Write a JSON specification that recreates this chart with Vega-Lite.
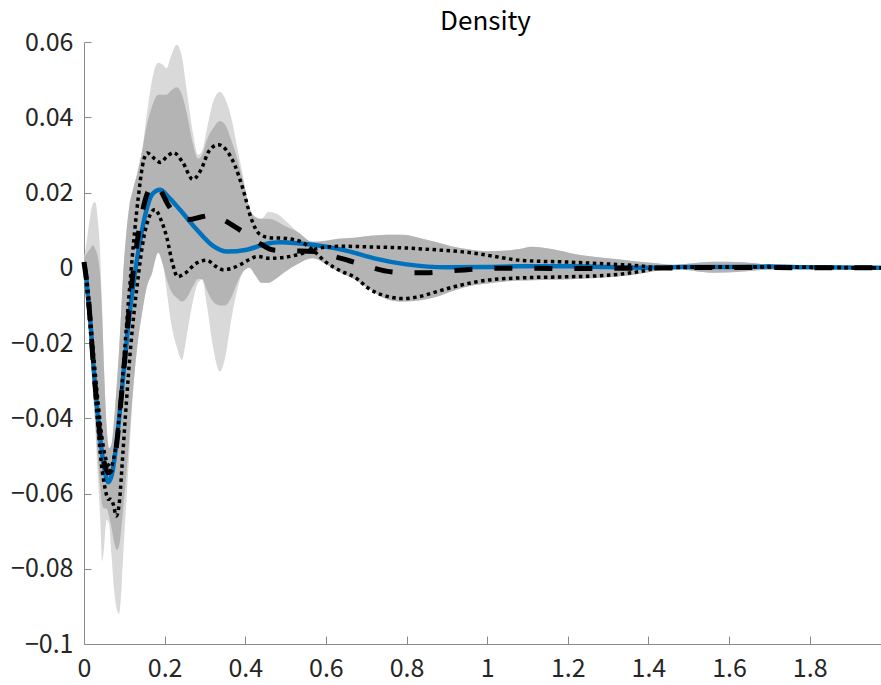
{
  "$schema": "https://vega.github.io/schema/vega-lite/v6.json",
  "autosize": {"type": "none"},
  "width": 797,
  "height": 602,
  "padding": {"left": 84, "top": 42, "right": 0, "bottom": 41},
  "background": "white",
  "title": {"text": "Density", "font": "Noto Sans CJK JP", "fontSize": 26, "fontWeight": "normal", "color": "#000000", "anchor": "middle", "baseline": "alphabetic", "offset": 11, "dx": 3, "dy": 37},
  "config": {
    "view": {"stroke": null},
    "axis": {"grid": false, "domainColor": "#8a8a8a", "domainWidth": 1, "tickColor": "#8a8a8a", "tickWidth": 1, "labelFont": "Noto Sans CJK JP", "labelFontSize": 25, "labelColor": "#262626", "title": null}
  },
  "datasets": {
    "env": [
      {"x": 0.000, "hi": 0.0025, "lo": -0.002, "hic": 0.0025, "loc": -0.002},
      {"x": 0.008, "hi": 0.008, "lo": -0.012, "hic": 0.004, "loc": -0.012},
      {"x": 0.015, "hi": 0.0135, "lo": -0.022, "hic": 0.005, "loc": -0.02},
      {"x": 0.022, "hi": 0.017, "lo": -0.033, "hic": 0.006, "loc": -0.031},
      {"x": 0.028, "hi": 0.0175, "lo": -0.043, "hic": 0.005, "loc": -0.041},
      {"x": 0.034, "hi": 0.013, "lo": -0.055, "hic": 0.003, "loc": -0.05},
      {"x": 0.040, "hi": 0.004, "lo": -0.066, "hic": -0.002, "loc": -0.058},
      {"x": 0.045, "hi": -0.012, "lo": -0.078, "hic": -0.012, "loc": -0.063},
      {"x": 0.050, "hi": -0.028, "lo": -0.074, "hic": -0.028, "loc": -0.064},
      {"x": 0.056, "hi": -0.042, "lo": -0.067, "hic": -0.042, "loc": -0.064},
      {"x": 0.062, "hi": -0.048, "lo": -0.068, "hic": -0.048, "loc": -0.066},
      {"x": 0.068, "hi": -0.047, "lo": -0.076, "hic": -0.047, "loc": -0.069},
      {"x": 0.075, "hi": -0.040, "lo": -0.086, "hic": -0.040, "loc": -0.073},
      {"x": 0.082, "hi": -0.030, "lo": -0.091, "hic": -0.030, "loc": -0.075},
      {"x": 0.087, "hi": -0.022, "lo": -0.092, "hic": -0.022, "loc": -0.074},
      {"x": 0.092, "hi": -0.012, "lo": -0.087, "hic": -0.012, "loc": -0.07},
      {"x": 0.097, "hi": -0.002, "lo": -0.077, "hic": -0.002, "loc": -0.064},
      {"x": 0.104, "hi": 0.008, "lo": -0.064, "hic": 0.008, "loc": -0.056},
      {"x": 0.112, "hi": 0.016, "lo": -0.050, "hic": 0.016, "loc": -0.046},
      {"x": 0.122, "hi": 0.021, "lo": -0.033, "hic": 0.021, "loc": -0.032},
      {"x": 0.132, "hi": 0.025, "lo": -0.021, "hic": 0.025, "loc": -0.021},
      {"x": 0.144, "hi": 0.031, "lo": -0.012, "hic": 0.031, "loc": -0.012},
      {"x": 0.156, "hi": 0.041, "lo": -0.005, "hic": 0.038, "loc": -0.005},
      {"x": 0.169, "hi": 0.050, "lo": -0.0013, "hic": 0.043, "loc": -0.0013},
      {"x": 0.184, "hi": 0.0545, "lo": 0.0066, "hic": 0.046, "loc": 0.004},
      {"x": 0.195, "hi": 0.054, "lo": 0.002, "hic": 0.046, "loc": 0.001},
      {"x": 0.205, "hi": 0.053, "lo": -0.006, "hic": 0.046, "loc": -0.003},
      {"x": 0.215, "hi": 0.056, "lo": -0.014, "hic": 0.047, "loc": -0.006},
      {"x": 0.230, "hi": 0.0593, "lo": -0.021, "hic": 0.048, "loc": -0.008},
      {"x": 0.243, "hi": 0.056, "lo": -0.0245, "hic": 0.046, "loc": -0.009},
      {"x": 0.255, "hi": 0.047, "lo": -0.018, "hic": 0.041, "loc": -0.008},
      {"x": 0.270, "hi": 0.036, "lo": -0.009, "hic": 0.033, "loc": -0.005},
      {"x": 0.283, "hi": 0.030, "lo": -0.004, "hic": 0.029, "loc": -0.003},
      {"x": 0.293, "hi": 0.031, "lo": -0.0032, "hic": 0.030, "loc": -0.003},
      {"x": 0.305, "hi": 0.037, "lo": -0.010, "hic": 0.034, "loc": -0.006},
      {"x": 0.320, "hi": 0.044, "lo": -0.021, "hic": 0.037, "loc": -0.009},
      {"x": 0.337, "hi": 0.0468, "lo": -0.0276, "hic": 0.039, "loc": -0.010},
      {"x": 0.350, "hi": 0.045, "lo": -0.024, "hic": 0.038, "loc": -0.010},
      {"x": 0.365, "hi": 0.040, "lo": -0.014, "hic": 0.034, "loc": -0.008},
      {"x": 0.380, "hi": 0.032, "lo": -0.006, "hic": 0.029, "loc": -0.004},
      {"x": 0.395, "hi": 0.024, "lo": -0.001, "hic": 0.023, "loc": -0.001},
      {"x": 0.410, "hi": 0.016, "lo": 0.000, "hic": 0.016, "loc": 0.000},
      {"x": 0.425, "hi": 0.0135, "lo": -0.002, "hic": 0.0135, "loc": -0.002},
      {"x": 0.440, "hi": 0.013, "lo": -0.004, "hic": 0.013, "loc": -0.004},
      {"x": 0.457, "hi": 0.0148, "lo": -0.004, "hic": 0.013, "loc": -0.004},
      {"x": 0.475, "hi": 0.0145, "lo": -0.003, "hic": 0.0125, "loc": -0.003},
      {"x": 0.500, "hi": 0.0125, "lo": -0.001, "hic": 0.011, "loc": -0.001},
      {"x": 0.530, "hi": 0.0095, "lo": 0.001, "hic": 0.0095, "loc": 0.001},
      {"x": 0.567, "hi": 0.0069, "lo": 0.0025, "hic": 0.0069, "loc": 0.0025},
      {"x": 0.600, "hi": 0.0072, "lo": 0.001, "hic": 0.0072, "loc": 0.001},
      {"x": 0.630, "hi": 0.0077, "lo": -0.001, "hic": 0.0077, "loc": -0.001},
      {"x": 0.670, "hi": 0.0080, "lo": -0.003, "hic": 0.0080, "loc": -0.003},
      {"x": 0.710, "hi": 0.0085, "lo": -0.0058, "hic": 0.0085, "loc": -0.0058},
      {"x": 0.750, "hi": 0.0088, "lo": -0.0083, "hic": 0.0088, "loc": -0.0083},
      {"x": 0.790, "hi": 0.0088, "lo": -0.009, "hic": 0.0088, "loc": -0.009},
      {"x": 0.830, "hi": 0.0080, "lo": -0.0087, "hic": 0.0080, "loc": -0.0087},
      {"x": 0.875, "hi": 0.0068, "lo": -0.0077, "hic": 0.0068, "loc": -0.0077},
      {"x": 0.920, "hi": 0.0055, "lo": -0.006, "hic": 0.0055, "loc": -0.006},
      {"x": 0.960, "hi": 0.0048, "lo": -0.0048, "hic": 0.0048, "loc": -0.0048},
      {"x": 1.000, "hi": 0.0044, "lo": -0.0042, "hic": 0.0044, "loc": -0.0042},
      {"x": 1.040, "hi": 0.0045, "lo": -0.0037, "hic": 0.0045, "loc": -0.0037},
      {"x": 1.080, "hi": 0.0050, "lo": -0.0034, "hic": 0.0050, "loc": -0.0034},
      {"x": 1.110, "hi": 0.0056, "lo": -0.0033, "hic": 0.0056, "loc": -0.0033},
      {"x": 1.160, "hi": 0.0050, "lo": -0.0032, "hic": 0.0050, "loc": -0.0032},
      {"x": 1.220, "hi": 0.0036, "lo": -0.0030, "hic": 0.0036, "loc": -0.0030},
      {"x": 1.300, "hi": 0.0025, "lo": -0.0025, "hic": 0.0025, "loc": -0.0025},
      {"x": 1.360, "hi": 0.0018, "lo": -0.0019, "hic": 0.0018, "loc": -0.0019},
      {"x": 1.420, "hi": 0.0012, "lo": -0.0008, "hic": 0.0012, "loc": -0.0008},
      {"x": 1.460, "hi": 0.0008, "lo": 0.0000, "hic": 0.0008, "loc": 0.0000},
      {"x": 1.510, "hi": 0.0012, "lo": -0.0008, "hic": 0.0012, "loc": -0.0008},
      {"x": 1.560, "hi": 0.0016, "lo": -0.0013, "hic": 0.0016, "loc": -0.0013},
      {"x": 1.620, "hi": 0.0015, "lo": -0.0011, "hic": 0.0015, "loc": -0.0011},
      {"x": 1.680, "hi": 0.0010, "lo": -0.0006, "hic": 0.0010, "loc": -0.0006},
      {"x": 1.750, "hi": 0.0005, "lo": -0.0003, "hic": 0.0005, "loc": -0.0003},
      {"x": 1.850, "hi": 0.0002, "lo": -0.0001, "hic": 0.0002, "loc": -0.0001},
      {"x": 1.977, "hi": 0.0000, "lo": 0.0000, "hic": 0.0000, "loc": 0.0000}
    ],
    "mean": [
      {"x": 0, "y": 0.0015}, {"x": 0.005, "y": -0.002}, {"x": 0.01, "y": -0.0077}, {"x": 0.015, "y": -0.013},
      {"x": 0.022, "y": -0.024}, {"x": 0.035, "y": -0.040}, {"x": 0.047, "y": -0.051}, {"x": 0.06, "y": -0.057},
      {"x": 0.069, "y": -0.055}, {"x": 0.079, "y": -0.048}, {"x": 0.089, "y": -0.038}, {"x": 0.099, "y": -0.027},
      {"x": 0.109, "y": -0.016}, {"x": 0.119, "y": -0.007}, {"x": 0.129, "y": 0.0005}, {"x": 0.139, "y": 0.007},
      {"x": 0.154, "y": 0.0150}, {"x": 0.169, "y": 0.0195}, {"x": 0.189, "y": 0.0207}, {"x": 0.208, "y": 0.019},
      {"x": 0.238, "y": 0.0154}, {"x": 0.28, "y": 0.0101}, {"x": 0.32, "y": 0.0058}, {"x": 0.355, "y": 0.0043},
      {"x": 0.404, "y": 0.0048}, {"x": 0.454, "y": 0.0064}, {"x": 0.486, "y": 0.0068}, {"x": 0.568, "y": 0.0061},
      {"x": 0.653, "y": 0.0045}, {"x": 0.72, "y": 0.0025}, {"x": 0.8, "y": 0.0009}, {"x": 0.9, "y": 0.0001},
      {"x": 1.0, "y": 0.0002}, {"x": 1.08, "y": 0.0004}, {"x": 1.2, "y": 0.0004}, {"x": 1.3, "y": 0.0002},
      {"x": 1.4, "y": 0.0}, {"x": 1.5, "y": 0.0002}, {"x": 1.6, "y": 0.0002}, {"x": 1.7, "y": 0.0003},
      {"x": 1.8, "y": 0.0001}, {"x": 1.977, "y": 0.0}
    ],
    "median": [
      {"x": 0, "y": 0.0015}, {"x": 0.01, "y": -0.007}, {"x": 0.022, "y": -0.024}, {"x": 0.035, "y": -0.040},
      {"x": 0.047, "y": -0.050}, {"x": 0.06, "y": -0.0545}, {"x": 0.072, "y": -0.053}, {"x": 0.082, "y": -0.046},
      {"x": 0.092, "y": -0.035}, {"x": 0.102, "y": -0.023}, {"x": 0.112, "y": -0.011}, {"x": 0.122, "y": -0.001},
      {"x": 0.132, "y": 0.007}, {"x": 0.145, "y": 0.015}, {"x": 0.16, "y": 0.0205}, {"x": 0.176, "y": 0.0223},
      {"x": 0.19, "y": 0.0205}, {"x": 0.21, "y": 0.0165}, {"x": 0.235, "y": 0.0135}, {"x": 0.26, "y": 0.0128},
      {"x": 0.29, "y": 0.0135}, {"x": 0.32, "y": 0.014}, {"x": 0.35, "y": 0.0125}, {"x": 0.38, "y": 0.0105},
      {"x": 0.41, "y": 0.0085}, {"x": 0.44, "y": 0.0062}, {"x": 0.47, "y": 0.0047}, {"x": 0.51, "y": 0.0045},
      {"x": 0.57, "y": 0.0043}, {"x": 0.62, "y": 0.003}, {"x": 0.66, "y": 0.0018}, {"x": 0.71, "y": 0.0002},
      {"x": 0.75, "y": -0.0009}, {"x": 0.8, "y": -0.0013}, {"x": 0.85, "y": -0.0013}, {"x": 0.9, "y": -0.0009},
      {"x": 0.95, "y": -0.0005}, {"x": 1.05, "y": -0.0001}, {"x": 1.2, "y": -0.0002}, {"x": 1.4, "y": -0.0001},
      {"x": 1.6, "y": 0.0001}, {"x": 1.8, "y": 0.0}, {"x": 1.977, "y": 0.0}
    ],
    "boundA": [
      {"x": 0, "y": 0.0015}, {"x": 0.01, "y": -0.006}, {"x": 0.022, "y": -0.021}, {"x": 0.035, "y": -0.036},
      {"x": 0.047, "y": -0.047}, {"x": 0.058, "y": -0.052}, {"x": 0.066, "y": -0.053}, {"x": 0.075, "y": -0.050},
      {"x": 0.085, "y": -0.042}, {"x": 0.095, "y": -0.030}, {"x": 0.105, "y": -0.016}, {"x": 0.115, "y": -0.003},
      {"x": 0.125, "y": 0.009}, {"x": 0.135, "y": 0.019}, {"x": 0.145, "y": 0.027}, {"x": 0.157, "y": 0.0305},
      {"x": 0.175, "y": 0.029}, {"x": 0.19, "y": 0.028}, {"x": 0.205, "y": 0.0295}, {"x": 0.222, "y": 0.0306},
      {"x": 0.245, "y": 0.028}, {"x": 0.27, "y": 0.0235}, {"x": 0.29, "y": 0.026}, {"x": 0.31, "y": 0.031},
      {"x": 0.333, "y": 0.0327}, {"x": 0.355, "y": 0.031}, {"x": 0.375, "y": 0.027}, {"x": 0.395, "y": 0.0207},
      {"x": 0.415, "y": 0.013}, {"x": 0.435, "y": 0.009}, {"x": 0.46, "y": 0.008}, {"x": 0.5, "y": 0.0078},
      {"x": 0.54, "y": 0.0068}, {"x": 0.567, "y": 0.0048}, {"x": 0.6, "y": 0.0015}, {"x": 0.64, "y": -0.001},
      {"x": 0.67, "y": -0.0024}, {"x": 0.71, "y": -0.0058}, {"x": 0.76, "y": -0.0078}, {"x": 0.79, "y": -0.0082},
      {"x": 0.83, "y": -0.0077}, {"x": 0.88, "y": -0.0062}, {"x": 0.92, "y": -0.005}, {"x": 1.0, "y": -0.0033},
      {"x": 1.08, "y": -0.0027}, {"x": 1.2, "y": -0.0024}, {"x": 1.3, "y": -0.002}, {"x": 1.38, "y": -0.001},
      {"x": 1.43, "y": 0.0}, {"x": 1.5, "y": 0.0002}, {"x": 1.6, "y": 0.0002}, {"x": 1.7, "y": 0.0003},
      {"x": 1.8, "y": 0.0001}, {"x": 1.977, "y": 0.0}
    ],
    "boundB": [
      {"x": 0, "y": 0.0015}, {"x": 0.01, "y": -0.009}, {"x": 0.022, "y": -0.025}, {"x": 0.033, "y": -0.040},
      {"x": 0.043, "y": -0.052}, {"x": 0.053, "y": -0.059}, {"x": 0.06, "y": -0.0615}, {"x": 0.066, "y": -0.0615},
      {"x": 0.073, "y": -0.063}, {"x": 0.08, "y": -0.066}, {"x": 0.088, "y": -0.062}, {"x": 0.096, "y": -0.050},
      {"x": 0.105, "y": -0.036}, {"x": 0.115, "y": -0.022}, {"x": 0.125, "y": -0.011}, {"x": 0.135, "y": -0.002},
      {"x": 0.145, "y": 0.006}, {"x": 0.16, "y": 0.013}, {"x": 0.176, "y": 0.0155}, {"x": 0.19, "y": 0.013},
      {"x": 0.205, "y": 0.0082}, {"x": 0.22, "y": 0.001}, {"x": 0.232, "y": -0.0024}, {"x": 0.25, "y": -0.0015},
      {"x": 0.28, "y": 0.0013}, {"x": 0.305, "y": 0.002}, {"x": 0.325, "y": 0.0005}, {"x": 0.345, "y": -0.0005},
      {"x": 0.365, "y": -0.0002}, {"x": 0.387, "y": 0.0008}, {"x": 0.41, "y": 0.0022}, {"x": 0.43, "y": 0.003},
      {"x": 0.46, "y": 0.0025}, {"x": 0.5, "y": 0.0028}, {"x": 0.54, "y": 0.0038}, {"x": 0.567, "y": 0.0048},
      {"x": 0.6, "y": 0.0055}, {"x": 0.64, "y": 0.0057}, {"x": 0.72, "y": 0.0055}, {"x": 0.79, "y": 0.0053},
      {"x": 0.88, "y": 0.0047}, {"x": 0.96, "y": 0.004}, {"x": 1.03, "y": 0.0028}, {"x": 1.08, "y": 0.002},
      {"x": 1.2, "y": 0.0015}, {"x": 1.3, "y": 0.001}, {"x": 1.38, "y": 0.0005}, {"x": 1.43, "y": 0.0},
      {"x": 1.5, "y": 0.0001}, {"x": 1.6, "y": 0.0002}, {"x": 1.7, "y": 0.0002}, {"x": 1.8, "y": 0.0001},
      {"x": 1.977, "y": 0.0}
    ]
  },
  "layer": [
    {
      "data": {"name": "env"},
      "mark": {"type": "area", "color": "#d9d9d9", "interpolate": "monotone", "opacity": 1},
      "encoding": {
        "x": {"field": "x", "type": "quantitative", "scale": {"domain": [0, 1.977], "nice": false, "zero": false},
              "axis": {"values": [0, 0.2, 0.4, 0.6, 0.8, 1, 1.2, 1.4, 1.6, 1.8], "format": "~g", "tickSize": -8, "labelPadding": 20, "labelFlush": false}},
        "y": {"field": "hi", "type": "quantitative", "scale": {"domain": [-0.1, 0.06], "nice": false, "zero": false},
              "axis": {"values": [-0.1, -0.08, -0.06, -0.04, -0.02, 0, 0.02, 0.04, 0.06], "format": "~g", "tickSize": -7, "labelPadding": 18, "labelFlush": false}},
        "y2": {"field": "lo"}
      }
    },
    {
      "data": {"name": "env"},
      "mark": {"type": "area", "color": "#b4b4b4", "interpolate": "monotone", "opacity": 1},
      "encoding": {
        "x": {"field": "x", "type": "quantitative"},
        "y": {"field": "hic", "type": "quantitative"},
        "y2": {"field": "loc"}
      }
    },
    {
      "data": {"name": "mean"},
      "mark": {"type": "line", "color": "#0072BD", "strokeWidth": 4.5, "interpolate": "monotone"},
      "encoding": {"x": {"field": "x", "type": "quantitative"}, "y": {"field": "y", "type": "quantitative"}}
    },
    {
      "data": {"name": "median"},
      "mark": {"type": "line", "color": "#000000", "strokeWidth": 5, "strokeDash": [18, 22], "strokeCap": "butt", "interpolate": "monotone"},
      "encoding": {"x": {"field": "x", "type": "quantitative"}, "y": {"field": "y", "type": "quantitative"}}
    },
    {
      "data": {"name": "boundA"},
      "mark": {"type": "line", "color": "#000000", "strokeWidth": 3.5, "strokeDash": [3.5, 3.5], "strokeCap": "butt", "interpolate": "monotone"},
      "encoding": {"x": {"field": "x", "type": "quantitative"}, "y": {"field": "y", "type": "quantitative"}}
    },
    {
      "data": {"name": "boundB"},
      "mark": {"type": "line", "color": "#000000", "strokeWidth": 3.5, "strokeDash": [3.5, 3.5], "strokeCap": "butt", "interpolate": "monotone"},
      "encoding": {"x": {"field": "x", "type": "quantitative"}, "y": {"field": "y", "type": "quantitative"}}
    }
  ]
}
